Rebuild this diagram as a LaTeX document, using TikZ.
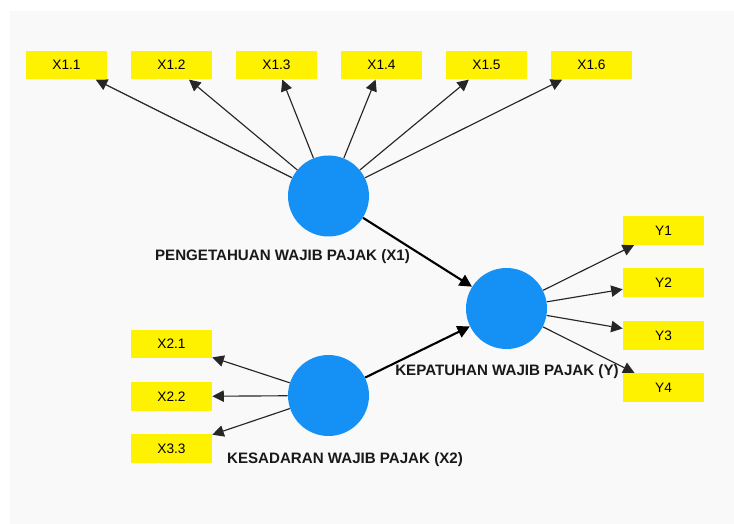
\documentclass[tikz,border=0pt]{standalone}
\usepackage{fontspec}
\setmainfont{Liberation Sans}
\usetikzlibrary{arrows.meta}

\definecolor{lvblue}{RGB}{21,145,245}
\definecolor{bggray}{RGB}{249,249,249}

\tikzset{
  lv/.style={circle, fill=lvblue, minimum size=1.62cm, inner sep=0pt},
  ind/.style={fill=yellow, minimum width=1.62cm, minimum height=0.57cm, inner sep=0pt, font=\fontsize{7.8}{9}\selectfont},
  lvname/.style={font=\fontsize{8.6}{10}\selectfont\bfseries, text=black!90},
  load/.style={draw=black!85, line width=0.65pt, -{Triangle[length=6.5pt,width=6.5pt]}},
  struct/.style={draw=black, line width=1.2pt, -{Triangle[length=7pt,width=7pt]}}
}

\begin{document}
\begin{tikzpicture}

        \useasboundingbox (0,0) rectangle (14.68,-10.48);
        \fill[bggray] (0.2,-0.22) rectangle (14.68,-10.48);

        % latent variables
        \node[lv] (x1) at (6.57,-3.92) {};
        \node[lv] (x2) at (6.57,-7.91) {};
        \node[lv] (y) at (10.13,-6.17) {};

        \node[lvname] (x1name) at (5.65,-5.14) {PENGETAHUAN WAJIB PAJAK (X1)};
        \node[lvname] (x2name) at (6.90,-9.20) {KESADARAN WAJIB PAJAK (X2)};

        % indicators
        \node[ind] (x11) at (1.33,-1.30) {X1.1};
        \node[ind] (x12) at (3.43,-1.30) {X1.2};
        \node[ind] (x13) at (5.53,-1.30) {X1.3};
        \node[ind] (x14) at (7.63,-1.30) {X1.4};
        \node[ind] (x15) at (9.73,-1.30) {X1.5};
        \node[ind] (x16) at (11.83,-1.30) {X1.6};

        \node[ind] (x21) at (3.43,-6.88) {X2.1};
        \node[ind] (x22) at (3.43,-7.93) {X2.2};
        \node[ind] (x33) at (3.43,-8.97) {X3.3};

        \node[ind] (y1) at (13.27,-4.61) {Y1};
        \node[ind] (y2) at (13.27,-5.65) {Y2};
        \node[ind] (y3) at (13.27,-6.71) {Y3};
        \node[ind] (y4) at (13.27,-7.75) {Y4};

        % outer model
        \draw[load] (x1) -- (x11);
        \draw[load] (x1) -- (x12);
        \draw[load] (x1) -- (x13);
        \draw[load] (x1) -- (x14);
        \draw[load] (x1) -- (x15);
        \draw[load] (x1) -- (x16);

        \draw[load] (x2) -- (x21);
        \draw[load] (x2) -- (x22);
        \draw[load] (x2) -- (x33);

        \draw[load] (y) -- (y1);
        \draw[load] (y) -- (y2);
        \draw[load] (y) -- (y3);
        \draw[load] (y) -- (y4);

        % inner model
        \draw[struct] (x1) -- (y);
        \draw[struct] (x2) -- (y);

        \node[lvname] (yname) at (10.14,-7.44) {KEPATUHAN WAJIB PAJAK (Y)};

\end{tikzpicture}
\end{document}
